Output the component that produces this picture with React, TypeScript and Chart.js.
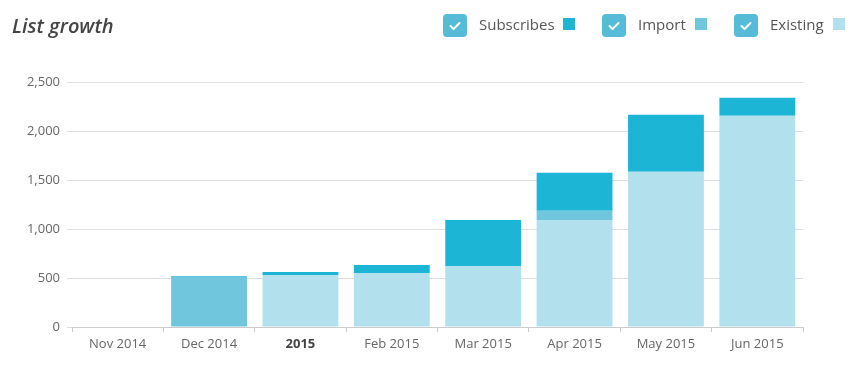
import React, { useEffect, useRef } from "react";
import { Chart, registerables } from "chart.js";

Chart.register(...registerables);

const categories = ["Nov 2014", "Dec 2014", "2015", "Feb 2015", "Mar 2015", "Apr 2015", "May 2015", "Jun 2015"];
const existingValues = [0, 0, 531, 552, 623, 1086, 1583, 2155];
const importValues = [0, 512, 0, 0, 0, 99, 0, 0];
const subscribesValues = [0, 9, 31, 81, 470, 388, 583, 184];
const yTicks = [0, 500, 1000, 1500, 2000, 2500];

const COLORS = { subscribes: "#1db5d5", import: "#6fc6dd", existing: "#b2e1ed", check: "#55bbd7" };
const FONT = "'Open Sans', 'Noto Sans', sans-serif";

const legendItems = [
  { label: "Subscribes", color: COLORS.subscribes, box: 443, text: 479, sq: 563 },
  { label: "Import", color: COLORS.import, box: 602, text: 638, sq: 695 },
  { label: "Existing", color: COLORS.existing, box: 734, text: 770, sq: 833 },
];

export default function App() {
  const ref = useRef<HTMLCanvasElement | null>(null);

  useEffect(() => {
    document.body.style.margin = "0";
    const ctx = ref.current!.getContext("2d")!;
    const chart = new Chart(ctx, {
      type: "bar",
      data: {
        labels: categories,
        datasets: [
          { label: "Existing", data: existingValues, backgroundColor: COLORS.existing },
          { label: "Import", data: importValues, backgroundColor: COLORS.import },
          { label: "Subscribes", data: subscribesValues, backgroundColor: COLORS.subscribes },
        ],
      },
      options: {
        animation: false,
        responsive: false,
        maintainAspectRatio: false,
        layout: { padding: { top: 82, right: 53, left: 0, bottom: 0 } },
        plugins: { legend: { display: false }, tooltip: { enabled: false }, title: { display: false } },
        datasets: { bar: { categoryPercentage: 1, barPercentage: 0.83 } },
        scales: {
          x: {
            stacked: true,
            grid: { display: true, drawOnChartArea: false, offset: true, tickLength: 5, color: "#cccccc" },
            border: { display: true, color: "#cccccc" },
            ticks: {
              padding: 4,
              color: (c: any) => (c.index === 2 ? "#444444" : "#666666"),
              font: (c: any) => ({ family: FONT, size: 13, weight: c.index === 2 ? "bold" : "normal" }),
              maxRotation: 0,
              autoSkip: false,
            },
            afterFit: (s: any) => { s.height = 40; },
          },
          y: {
            stacked: true,
            min: 0,
            max: 2500,
            afterBuildTicks: (s: any) => { s.ticks = yTicks.map((v) => ({ value: v })); },
            grid: { color: "#dddddd", tickLength: 5 },
            border: { display: false },
            ticks: {
              padding: 7,
              color: "#666666",
              font: { family: FONT, size: 13 },
              callback: (v: any) => Number(v).toLocaleString("en-US"),
            },
            afterFit: (s: any) => { s.width = 72; },
          },
        },
      },
    });
    return () => chart.destroy();
  }, []);

  return (
    <div style={{ position: "relative", width: 856, height: 367, fontFamily: FONT, overflow: "hidden" }}>
      <canvas ref={ref} width={856} height={367} style={{ position: "absolute", left: 0, top: 0 }} />
      <div style={{ position: "absolute", left: 12, top: 12, fontSize: 20, fontStyle: "italic", fontWeight: 600, color: "#444", lineHeight: "28px" }}>
        List growth
      </div>
      {legendItems.map((it) => (
        <React.Fragment key={it.label}>
          <div style={{ position: "absolute", left: it.box, top: 14, width: 24, height: 23, borderRadius: 4, background: COLORS.check }}>
            <svg width="24" height="23" viewBox="0 0 24 23" style={{ display: "block" }}>
              <polyline points="7.5,12 10.5,15 16.5,9" fill="none" stroke="#fff" strokeWidth="2" strokeLinecap="round" strokeLinejoin="round" />
            </svg>
          </div>
          <div style={{ position: "absolute", left: it.text, top: 13, fontSize: 15, lineHeight: "23px", color: "#555", whiteSpace: "nowrap" }}>
            {it.label}
          </div>
          <div style={{ position: "absolute", left: it.sq, top: 18, width: 12, height: 12, background: it.color }} />
        </React.Fragment>
      ))}
    </div>
  );
}
